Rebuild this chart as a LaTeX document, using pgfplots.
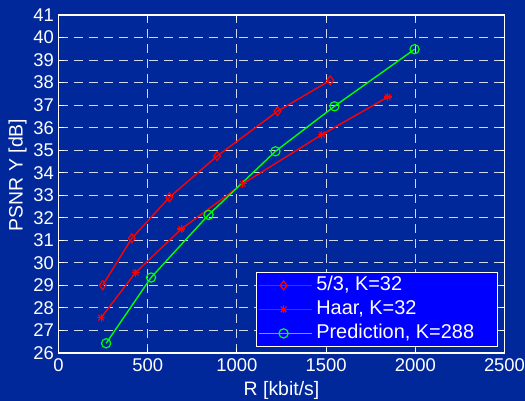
\documentclass[border=0pt]{standalone}
\usepackage{pgfplots}
\pgfplotsset{compat=1.18}
\usepackage{fontspec}
\setmainfont{Liberation Sans}
\definecolor{bg}{RGB}{0,40,155}
\definecolor{lgbg}{RGB}{0,0,255}
\definecolor{rd}{RGB}{255,0,0}
\definecolor{gn}{RGB}{0,255,0}
\pgfdeclareplotmark{mstar}{\pgfuseplotmark{+}\pgfuseplotmark{x}}
\newcommand{\chartfont}{\fontsize{18.5}{21}\selectfont}
\newcommand{\labfont}{\fontsize{19.5}{22}\selectfont}
\newcommand{\legfont}{\fontsize{20}{23}\selectfont}
\newcommand{\lgt}[1]{\makebox[176bp][l]{#1}}
\begin{document}
\begin{tikzpicture}
\path[use as bounding box, fill=bg] (-58.5bp,-48bp) rectangle (466.5bp,353bp);
\begin{axis}[
  scale only axis, width=446bp, height=338bp,
  xmin=0, xmax=2500, ymin=26, ymax=41,
  xtick={0,500,...,2500}, ytick={26,27,...,41},
  grid=major,
  major grid style={white!82!bg, dash pattern=on 9bp off 6bp, line width=0.9bp},
  axis line style={white, line width=1.3bp},
  tick style={white, line width=1bp}, tick align=inside, major tick length=5bp,
  /pgf/number format/assume math mode=true,
  /pgf/number format/1000 sep={},
  ticklabel style={text=white, font=\chartfont},
  xticklabel style={yshift=-2bp},
  yticklabel style={xshift=-1bp},
  xlabel={R [kbit/s]}, ylabel={PSNR Y [dB]},
  every axis x label/.style={at={(axis description cs:0.5,0)}, yshift=-37bp, anchor=center, text=white, font=\labfont},
  every axis y label/.style={at={(axis description cs:0,0.527)}, xshift=-41bp, rotate=90, anchor=center, text=white, font=\labfont},
  legend style={fill=lgbg, draw=white, line width=1bp, text=white, font=\legfont,
    at={(0.985,0.018)}, anchor=south east, inner sep=1bp,
    nodes={inner ysep=3bp, inner xsep=4bp, text height=14bp, text depth=4bp}},
  legend cell align=left,
  legend image code/.code={
    \path (0bp,0bp) -- (53bp,0bp);
    \draw[mark=none, line width=1.6bp] (7bp,0bp) -- (43bp,0bp);
    \draw[only marks] plot coordinates {(25bp,0bp)};},
]
\addplot[rd, line width=1.4bp, mark=diamond, mark size=4.5bp, mark options={solid, line width=1.2bp}] coordinates {
(248,29.01) (411,31.09) (622,32.91) (889,34.74) (1228,36.73) (1523,38.10)};
\addlegendentry{\lgt{5/3, K=32}}
\addplot[rd, line width=1.4bp, mark=mstar, mark size=4bp, mark options={solid, line width=1.2bp}] coordinates {
(239,27.57) (432,29.57) (688,31.5) (1033,33.51) (1476,35.69) (1846,37.36)};
\addlegendentry{\lgt{Haar, K=32}}
\addplot[gn, line width=1.4bp, mark=o, mark size=4.6bp, mark options={solid, line width=1.2bp}] coordinates {
(267,26.43) (519,29.35) (841,32.13) (1216,34.95) (1547,36.95) (1996,39.48)};
\addlegendentry{\lgt{Prediction, K=288}}
\end{axis}
\end{tikzpicture}
\end{document}
